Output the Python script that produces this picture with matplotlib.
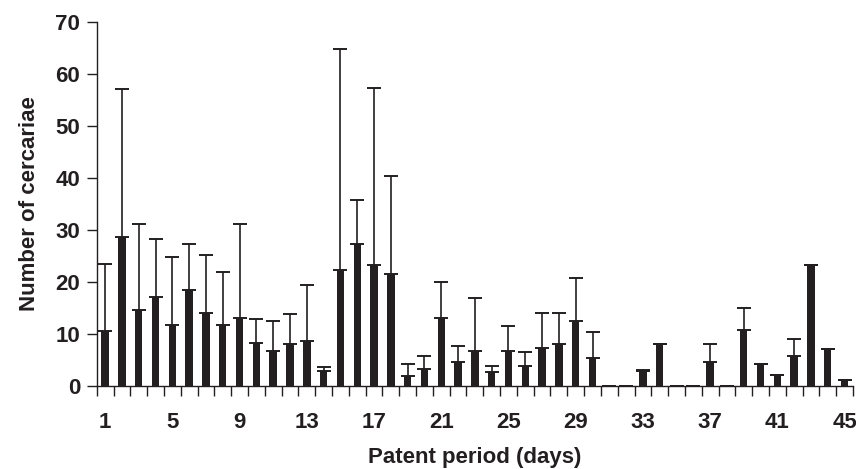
import matplotlib
matplotlib.use('Agg')
import matplotlib.pyplot as plt
import numpy as np

days = list(range(1, 46))
means = [10.5, 28.6, 14.6, 17.1, 11.7, 18.4, 14.0, 11.7, 13.0, 8.3,
         6.7, 8.0, 8.6, 2.9, 22.2, 27.2, 23.2, 21.5, 1.9, 3.2,
         13.0, 4.6, 6.7, 2.6, 6.7, 3.8, 7.2, 8.0, 12.4, 5.3,
         0.0, 0.0, 2.9, 8.0, 0.0, 0.0, 4.5, 0.0, 10.7, 4.2,
         2.0, 5.7, 23.2, 7.1, 1.1]
upper = [23.5, 57.0, 31.1, 28.3, 24.8, 27.3, 25.1, 21.9, 31.1, 12.8,
         12.4, 13.8, 19.4, 3.6, 64.7, 35.8, 57.3, 40.3, 4.2, 5.8,
         20.0, 7.7, 16.9, 3.8, 11.5, 6.4, 14.0, 14.0, 20.8, 10.3,
         0.0, 0.0, 3.0, 8.0, 0.0, 0.0, 8.0, 0.0, 14.9, 4.2,
         2.0, 9.0, 23.2, 7.1, 1.1]
tick_days = [1, 5, 9, 13, 17, 21, 25, 29, 33, 37, 41, 45]

FONT = 'Liberation Sans'

fig = plt.figure(figsize=(8.56, 4.69), dpi=100)
ax = fig.add_axes([0.113, 0.1776, 0.8835, 0.7761])

dark = '#231f20'
x = np.arange(len(days))
means = np.array(means)
upper = np.array(upper)

ax.bar(x, means, width=0.44, color=dark, zorder=2)
ax.errorbar(x, means, yerr=[np.zeros_like(means), upper - means], fmt='none',
            ecolor=dark, elinewidth=1.2, capsize=4.7, capthick=1.4, zorder=3)

ax.set_xlim(-0.5, len(days) - 0.5)
ax.set_ylim(0, 70)
ax.set_yticks(range(0, 71, 10))

ax.set_xticks([days.index(d) for d in tick_days])
ax.set_xticklabels([str(d) for d in tick_days])
ax.set_xticks(np.arange(-0.5, len(days)), minor=True)
ax.tick_params(axis='x', which='major', length=0, pad=19)
ax.tick_params(axis='x', which='minor', length=7, width=1.0, color=dark, direction='out')
ax.tick_params(axis='y', length=7, width=1.0, color=dark, pad=5)

for lab in ax.get_xticklabels() + ax.get_yticklabels():
    lab.set_fontfamily(FONT)
    lab.set_fontweight('bold')
    lab.set_fontsize(16)
    lab.set_color(dark)

for s in ['top', 'right']:
    ax.spines[s].set_visible(False)
for s in ['left', 'bottom']:
    ax.spines[s].set_linewidth(1.0)
    ax.spines[s].set_color(dark)

ax.set_xlabel('Patent period (days)', fontsize=16, fontweight='bold',
              family=FONT, color=dark, labelpad=10)
ax.set_ylabel('Number of cercariae', fontsize=16, fontweight='bold',
              family=FONT, color=dark, labelpad=11)

plt.savefig('out.png', dpi=100)
